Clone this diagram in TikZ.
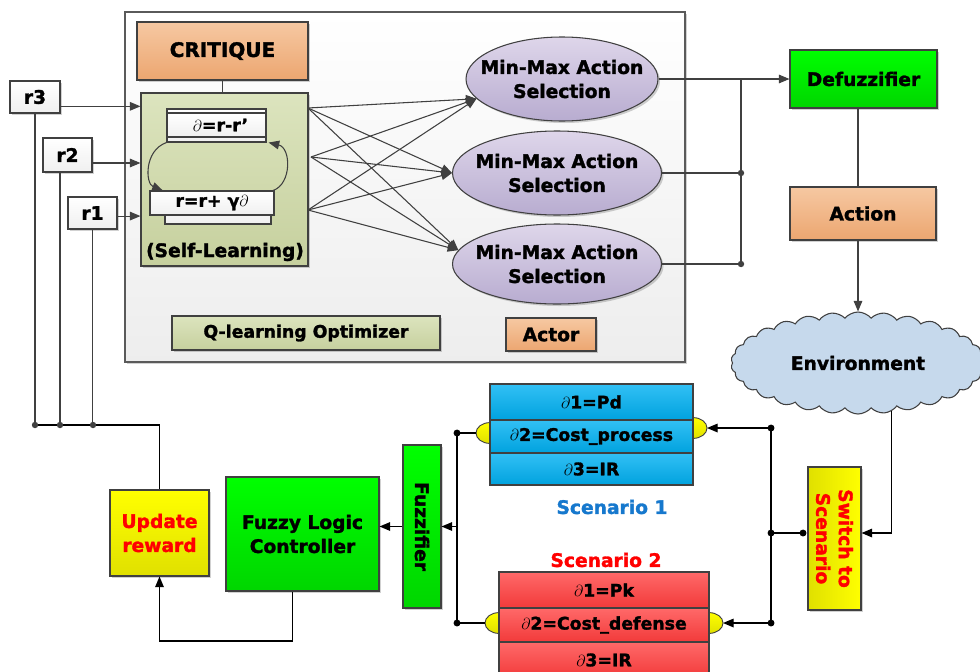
\documentclass[tikz,border=0pt]{standalone}
\usepackage{fontspec}
\setmainfont{DejaVu Sans}
\newfontfamily\hvy{DejaVu Sans}[UprightFont={* Bold},BoldFont={* Bold},FakeBold=1.6]
\usetikzlibrary{arrows.meta,shapes.geometric,shapes.symbols,shadows}

\definecolor{edge}{RGB}{64,64,64}
\definecolor{frame}{RGB}{90,90,90}
\definecolor{orTop}{RGB}{246,200,162}
\definecolor{orBot}{RGB}{236,166,112}
\definecolor{olTop}{RGB}{220,228,190}
\definecolor{olBot}{RGB}{198,208,158}
\definecolor{lvTop}{RGB}{222,214,234}
\definecolor{lvBot}{RGB}{184,172,208}
\definecolor{gnTop}{RGB}{0,255,0}
\definecolor{gnBot}{RGB}{0,214,0}
\definecolor{ylTop}{RGB}{255,255,0}
\definecolor{ylBot}{RGB}{224,224,0}
\definecolor{blTop}{RGB}{50,192,245}
\definecolor{blBot}{RGB}{0,162,222}
\definecolor{rdTop}{RGB}{255,105,105}
\definecolor{rdBot}{RGB}{242,58,58}
\definecolor{cloudc}{RGB}{198,217,236}
\definecolor{scnblue}{RGB}{22,120,205}
\definecolor{scnred}{RGB}{255,0,0}

\tikzset{
  sz/.style 2 args={minimum width=#1*0.75pt,minimum height=#2*0.75pt},
  shad/.style={drop shadow={shadow xshift=1.5pt,shadow yshift=-1.5pt,fill=black,opacity=0.18}},
  box/.style={draw=edge,line width=0.8pt,inner sep=1pt,align=center,
    font=\hvy\fontsize{14}{18}\selectfont},
  lbl/.style={inner sep=0pt,align=center,font=\hvy\fontsize{14}{18}\selectfont},
  small/.style={font=\hvy\fontsize{13}{16}\selectfont},
  orangefill/.style={top color=orTop,bottom color=orBot},
  olivefill/.style={top color=olTop,bottom color=olBot},
  lavfill/.style={top color=lvTop,bottom color=lvBot},
  greenfill/.style={top color=gnTop,bottom color=gnBot},
  yellowfill/.style={top color=ylTop,bottom color=ylBot},
  bluefill/.style={top color=blTop,bottom color=blBot},
  redfill/.style={top color=rdTop,bottom color=rdBot},
  whitefill/.style={top color=white,bottom color=gray!12},
  lineG/.style={draw=edge,line width=0.8pt},
  arrG/.style={lineG,-{Triangle[length=8pt,width=6.5pt]}},
  lineB/.style={draw=black,line width=0.9pt},
  arrB/.style={lineB,-{Triangle[length=8pt,width=6.5pt]}},
  dotG/.style={fill=edge},
  dotB/.style={fill=black},
  bump/.style={draw=edge,line width=0.7pt,top color=ylTop,bottom color=ylBot}
}

\begin{document}
\begin{tikzpicture}[x=0.75pt,y=-0.75pt]
\useasboundingbox (0,0) rectangle (980,671);

% ---------- optimizer frame ----------
\node[draw=frame,line width=0.8pt,top color=white,bottom color=gray!14,sz={560}{350},shad] (main) at (405,187) {};

\node[box,orangefill,sz={171}{58},shad,font=\hvy\fontsize{15}{18}\selectfont] (crit) at (222.5,51) {CRITIQUE};
\node[box,olivefill,sz={167}{173},shad] (sl) at (224.5,179.5) {};
\node[lbl] (sltxt) at (225,252) {(Self-Learning)};

% self-learning update boxes
\node[box,whitefill,sz={99}{33}] (dback) at (216.5,125.5) {};
\node[box,whitefill,small,sz={99}{24}] (dbox) at (216.5,125) {\hspace*{6pt}$\partial$=r-r’};
\node[box,whitefill,sz={106}{26}] (rback) at (218,211) {};
\node[box,whitefill,small,sz={124}{24}] (rbox) at (212,203) {r=r+ γ$\partial$};

\draw[arrG] (dback.south west) .. controls +(-17pt,-6pt) and +(-13pt,5pt) .. ([xshift=10pt]rbox.north west);
\draw[arrG] ([xshift=-1pt]rbox.north east) .. controls +(14pt,5pt) and +(17pt,-4pt) .. ([xshift=1.5pt]dback.south east);

% reward inputs
\node[box,whitefill,sz={50}{32},shad] (r3) at (35,97) {r3};
\node[box,whitefill,sz={49}{34},shad] (r2) at (67.5,155) {r2};
\node[box,whitefill,sz={49}{32},shad] (r1) at (92.5,213) {r1};

% actor ellipses
\node[draw=edge,line width=0.8pt,ellipse,lavfill,sz={192}{84},shad] (e1) at (562,79) {};
\node[draw=edge,line width=0.8pt,ellipse,lavfill,sz={209}{84},shad] (e2) at (557,173) {};
\node[draw=edge,line width=0.8pt,ellipse,lavfill,sz={209}{80},shad] (e3) at (557,264) {};
\node[lbl] (e1t) at (e1) {Min-Max Action\\Selection};
\node[lbl] (e2t) at (e2) {Min-Max Action\\Selection};
\node[lbl] (e3t) at (e3) {Min-Max Action\\Selection};

\node[box,olivefill,sz={268}{34},shad,small] (qopt) at (306,333) {Q-learning Optimizer};
\node[box,orangefill,sz={90}{33},shad] (actor) at (551,334.5) {Actor};

% critic to actor connections
\coordinate (o1) at (308,108);
\coordinate (o2) at (311,157);
\coordinate (o3) at (308,210);
\foreach \s in {o1,o2,o3}
  \foreach \t in {e1.193,e2.west,e3.172}
    \draw[arrG] (\s) -- (\t);

\draw[lineG] (crit.south) -- (crit.south |- sl.north);
\draw[arrG] ([yshift=-7pt]r3.east) -- ([yshift=-7pt]r3.east -| sl.west);
\draw[arrG] ([yshift=-6pt]r2.east) -- ([yshift=-6pt]r2.east -| sl.west);
\draw[arrG] ([yshift=-2.3pt]r1.east) -- ([yshift=-2.3pt]r1.east -| sl.west);

% ---------- right column ----------
\node[box,greenfill,sz={147}{58},shad] (defuz) at (863.5,79) {Defuzzifier};
\node[box,orangefill,sz={146}{53},shad] (action) at (863,213.5) {Action};
\node[draw=edge,line width=0.8pt,cloud,cloud puffs=30,cloud puff arc=100,cloud ignores aspect,
      fill=cloudc,sz={254}{102}] (env) at (858,363) {};
\node[lbl] (envt) at (env) {Environment};

\coordinate (j2) at (741,173);
\coordinate (j3) at (741,264);
\draw[arrG] (e1.east) -- (defuz.west);
\draw[lineG] (e2.east) -- (j2);
\draw[lineG] (e3.east) -- (j3);
\draw[lineG] (j3) -- (j3 |- e1.east);
\fill[dotG] (j2) circle (2.4pt);
\fill[dotG] (j3) circle (2.4pt);

\draw[lineG] (env.north |- defuz.south) -- (env.north |- action.north);
\draw[arrG] (env.north |- action.south) -- (env.north);

% ---------- scenarios ----------
\coordinate (b1l) at (490,433);
\coordinate (b1r) at (693,428);
\coordinate (b2l) at (499,623);
\coordinate (b2r) at (709,623);
\foreach \b in {b1l,b1r,b2l,b2r}
  \path[bump] (\b) ellipse [x radius=10.5pt,y radius=7.8pt];

\node[box,bluefill,small,sz={203}{36}] (s1a) at (591.5,402) {$\partial$1=Pd};
\node[box,bluefill,small,sz={203}{33}] (s1b) at (591.5,436.5) {$\partial$2=Cost\_process};
\node[box,bluefill,small,sz={203}{32}] (s1c) at (591.5,469) {$\partial$3=IR};
\node[lbl,text=scnblue] (sc1) at (612,507) {Scenario 1};

\node[lbl,text=scnred] (sc2) at (606,560) {Scenario 2};
\node[box,redfill,small,sz={210}{36}] (s2a) at (604,590) {$\partial$1=Pk};
\node[box,redfill,small,sz={210}{34}] (s2b) at (604,625) {$\partial$2=Cost\_defense};
\node[box,redfill,small,sz={210}{36}] (s2c) at (604,660) {$\partial$3=IR};

\node[box,sz={53}{143},shad,left color=ylBot,right color=ylTop] (sw) at (834.5,538.5) {};
\node[lbl,text=scnred,rotate=-90,font=\hvy\fontsize{14}{17}\selectfont] (swt) at (sw) {Switch to\\Scenario};

% switch distribution
\coordinate (sj1) at (771,428);
\coordinate (sj0) at (771,533);
\coordinate (sj2) at (771,623);
\coordinate (swdot) at (803,533);
\draw[lineB] (sj1) -- (sj2);
\draw[lineB] (sj0) -- (swdot);
\draw[arrB] (sj1) -- ([xshift=10.5pt]b1r);
\draw[arrB] (sj2) -- ([xshift=10.5pt]b2r);
\draw[arrB] (env.-55) |- (sw.east |- sj0);
\foreach \c in {sj1,sj0,sj2,swdot}
  \fill[dotB] (\c) circle (2.6pt);

% ---------- fuzzy path ----------
\node[box,greenfill,sz={38}{163},shad] (fuzz) at (422,526.5) {};
\node[lbl,rotate=-90] (fuzzt) at (fuzz) {Fuzzifier};
\node[box,greenfill,sz={153}{114},shad] (flc) at (302.5,534) {Fuzzy Logic\\Controller};
\node[box,yellowfill,sz={99}{86},shad,text=scnred] (ur) at (159.5,533) {Update\\reward};

\coordinate (lj1) at (457,433);
\coordinate (lj2) at (457,623);
\draw[lineB] (lj1) -- (lj2);
\draw[lineB] (lj1) -- ([xshift=-10.5pt]b1l);
\draw[lineB] (lj2) -- ([xshift=-10.5pt]b2l);
\fill[dotB] (lj1) circle (2.6pt);
\fill[dotB] (lj2) circle (2.6pt);
\draw[arrB] (lj1 |- fuzz.east) -- (fuzz.east);
\draw[arrB] (fuzz.west) -- (fuzz.west -| flc.east);

\coordinate (low) at (159.5,641);
\draw[arrB] ([xshift=-7.5pt]flc.south) |- (low) -- (ur.south);

% reward feedback bus
\coordinate (h3) at (35,425);
\coordinate (h2) at (60,425);
\coordinate (h1) at (93,425);
\draw[lineG] (r3.south) -- (h3);
\draw[lineG] (h2 |- r2.south) -- (h2);
\draw[lineG] (r1.south) -- (r1.south |- h1);
\draw[lineB] (h3) -- (h3 -| ur.north) -- (ur.north);
\foreach \c in {h3,h2,h1}
  \fill[dotG] (\c) circle (2.4pt);
\end{tikzpicture}
\end{document}
